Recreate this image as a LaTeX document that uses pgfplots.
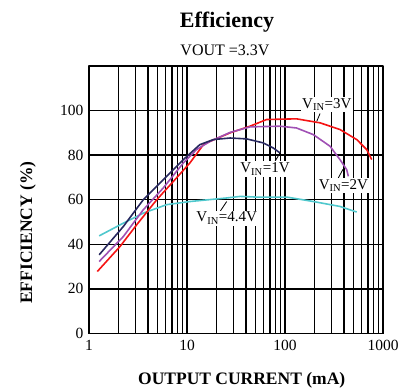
\documentclass[border=0pt]{standalone}
\usepackage{pgfplots}
\pgfplotsset{compat=1.18}
\usepackage{fontspec}
\setmainfont{Liberation Serif}
\definecolor{cRed}{RGB}{245,20,20}
\definecolor{cPurple}{RGB}{160,80,180}
\definecolor{cNavy}{RGB}{40,40,95}
\definecolor{cCyan}{RGB}{80,200,205}
\begin{document}
\begin{tikzpicture}[x=1pt,y=1pt]
\useasboundingbox (-89,-54.5) rectangle (312,333.5);
\begin{axis}[
  at={(0,0)}, anchor=south west,
  scale only axis, width=294pt, height=267.5pt,
  xmode=log, xmin=1, xmax=1000, ymin=0, ymax=120,
  log basis x=10,
  xtick={1,10,100,1000}, xticklabels={1,10,100,1000},
  ytick={0,20,40,60,80,100}, yticklabels={0,20,40,60,80,100},
  minor xtick={2,3,4,5,6,7,8,9,20,30,40,50,60,70,80,90,200,300,400,500,600,700,800,900},
  grid=both,
  major grid style={black, line width=1.4pt},
  minor grid style={black, line width=1.4pt},
  axis line style={black, line width=1.6pt},
  tick style={draw=none},
  ticklabel style={font=\fontsize{15.5}{16}\selectfont},
  xticklabel style={yshift=-3pt},
  yticklabel style={xshift=-2pt},
  clip=false,
  line join=round,
]
\addplot[cCyan, line width=1.6pt] coordinates {
 (1.27,43.8) (2.24,49.5) (3.58,54.0) (6.2,57.8) (10.7,59.2) (25.4,60.8) (34.8,61.5) (51,61.2) (104,61.2) (195,59.2) (364,57.0) (539,54.5)};
\addplot[cRed, line width=1.6pt] coordinates {
 (1.215,27.8) (2.07,39.0) (3.07,48.8) (4.91,60.0) (7.25,68.2) (10.7,76.5) (14.7,84.7) (17.2,86.2) (27.5,90.0) (44,93.0) (65,96.0) (131,96.3) (228,94.5) (364,91.5) (539,87.0) (682,82.5) (767,78.0)};
\addplot[cPurple, line width=1.6pt] coordinates {
 (1.27,32.3) (2.24,43.5) (3.58,55.5) (5.73,65.3) (9.17,76.5) (12.5,82.5) (17.2,86.2) (27.5,90.2) (44,92.7) (89,93.0) (131,92.2) (195,89.2) (288,84.0) (364,78.0) (426,73.5) (443,70.5)};
\addplot[cNavy, line width=1.6pt] coordinates {
 (1.27,35.3) (2.24,48.0) (3.58,60.0) (5.73,69.0) (9.17,78.0) (13.5,84.7) (18.6,87.0) (27.5,87.7) (40.6,87.3) (60,85.5) (76,83.2) (89,81.0)};
\draw[black, line width=0.8pt] (axis cs:228,98.7) -- (axis cs:211,95.2);
\draw[black, line width=0.8pt] (axis cs:79,77.2) -- (axis cs:89,81.0);
\draw[black, line width=0.8pt] (axis cs:350,69.8) -- (axis cs:391,73.7);
\draw[black, line width=0.8pt] (axis cs:21.7,54.7) -- (axis cs:25.4,59.2);
\node[fill=white, inner sep=1.5pt, font=\fontsize{15}{16}\selectfont] at (axis cs:267,102.7) {V\textsubscript{IN}=3V};
\node[fill=white, inner sep=1.5pt, font=\fontsize{15}{16}\selectfont] at (axis cs:62.5,73.8) {V\textsubscript{IN}=1V};
\node[fill=white, inner sep=1.5pt, font=\fontsize{15}{16}\selectfont] at (axis cs:394,66.3) {V\textsubscript{IN}=2V};
\node[fill=white, inner sep=1.5pt, font=\fontsize{15}{16}\selectfont] at (axis cs:25.4,51.8) {V\textsubscript{IN}=4.4V};
\end{axis}
\node[font=\fontsize{22}{24}\selectfont\bfseries] at (138,311.5) {Efficiency};
\node[font=\fontsize{16}{18}\selectfont] at (136,283.5) {VOUT =3.3V};
\node[font=\fontsize{17.5}{19}\selectfont\bfseries] at (152.7,-46.5) {OUTPUT CURRENT (mA)};
\node[font=\fontsize{17.5}{19}\selectfont\bfseries, rotate=90] at (-61,101) {EFFICIENCY (\%)};
\end{tikzpicture}
\end{document}
